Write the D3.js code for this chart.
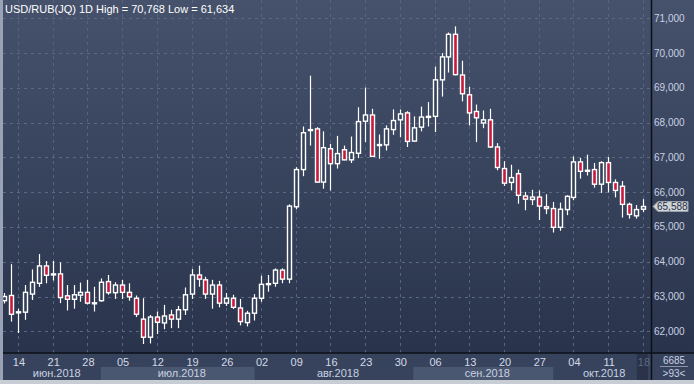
<!DOCTYPE html>
<html>
<head>
<meta charset="utf-8">
<script src="https://cdn.jsdelivr.net/npm/d3@7"></script>
<style>
  body { margin: 0; background: #c8ccd4; }
  svg { display: block; font-family: "Liberation Sans", Arial, sans-serif; }
</style>
</head>
<body>
<script>
// trading days shown (93 bars)
const days = [
  '2018-06-11','2018-06-13','2018-06-14','2018-06-15','2018-06-18','2018-06-19','2018-06-20','2018-06-21','2018-06-22',
  '2018-06-25','2018-06-26','2018-06-27','2018-06-28','2018-06-29',
  '2018-07-02','2018-07-03','2018-07-04','2018-07-05','2018-07-06','2018-07-09','2018-07-10','2018-07-11','2018-07-12',
  '2018-07-13','2018-07-16','2018-07-17','2018-07-18','2018-07-19','2018-07-20','2018-07-23','2018-07-24','2018-07-25',
  '2018-07-26','2018-07-27','2018-07-30','2018-07-31',
  '2018-08-01','2018-08-02','2018-08-03','2018-08-06','2018-08-07','2018-08-08','2018-08-09','2018-08-10','2018-08-13',
  '2018-08-14','2018-08-15','2018-08-16','2018-08-17','2018-08-20','2018-08-21','2018-08-22','2018-08-23','2018-08-24',
  '2018-08-27','2018-08-28','2018-08-29','2018-08-30','2018-08-31',
  '2018-09-03','2018-09-04','2018-09-05','2018-09-06','2018-09-07','2018-09-10','2018-09-11','2018-09-12','2018-09-13',
  '2018-09-14','2018-09-17','2018-09-18','2018-09-19','2018-09-20','2018-09-21','2018-09-24','2018-09-25','2018-09-26',
  '2018-09-27','2018-09-28',
  '2018-10-01','2018-10-02','2018-10-03','2018-10-04','2018-10-05','2018-10-08','2018-10-09','2018-10-10','2018-10-11',
  '2018-10-12','2018-10-15','2018-10-16','2018-10-17','2018-10-18'
];

const open = [
  62.88,63.03,62.54,62.55,63.07,63.38,63.88,63.63,63.65,63.02,62.92,63.04,63.12,62.80,
  62.88,63.43,63.11,63.33,63.12,62.95,62.35,61.83,62.41,62.24,62.47,62.35,62.62,63.07,63.62,63.48,63.07,63.33,62.81,62.95,62.67,62.25,
  62.52,62.95,63.35,63.38,63.76,63.50,65.58,66.65,67.78,67.82,66.29,67.25,66.82,67.22,66.93,67.12,68.04,68.22,67.37,67.36,67.80,68.08,68.28,
  67.47,67.87,68.16,68.18,69.23,69.89,70.54,69.37,68.80,68.32,67.99,68.08,67.30,66.68,66.28,66.53,65.89,65.79,65.86,65.58,
  65.53,64.99,65.50,65.85,66.87,66.62,66.65,66.23,66.85,66.28,66.17,65.65,65.32,65.51
];
const high = [
  63.10,63.93,62.65,63.33,63.78,64.22,64.02,64.02,63.98,63.33,63.33,63.40,63.48,63.28,
  63.52,63.62,63.41,63.48,63.38,63.03,62.95,62.47,62.57,62.76,62.62,62.73,63.26,63.79,63.89,63.57,63.48,63.45,63.10,63.05,62.93,62.59,
  63.07,63.60,63.62,63.81,63.81,65.65,66.72,67.89,69.35,67.87,67.75,67.39,67.62,67.34,67.60,68.44,69.01,68.40,67.66,67.92,68.38,68.38,68.33,
  68.18,68.46,68.59,69.61,70.00,70.59,70.768,69.78,69.03,68.52,68.35,68.40,67.41,66.89,66.79,66.65,66.01,66.07,66.05,65.94,
  65.72,65.70,65.91,67.03,66.99,67.08,66.84,66.89,67.01,66.37,66.32,65.70,65.63,65.80
];
const low = [
  62.80,62.28,61.95,62.33,62.90,63.28,63.38,63.46,62.81,62.60,62.65,62.85,62.77,62.57,
  62.85,63.05,62.93,62.93,62.88,62.41,61.634,61.65,61.92,62.06,62.09,62.09,62.47,62.93,63.28,62.93,62.65,62.69,62.73,62.64,62.17,62.14,
  62.31,62.85,63.14,63.28,63.38,63.38,65.51,66.46,67.34,66.27,66.10,66.05,66.68,66.92,66.84,66.98,67.44,67.02,66.96,67.20,67.65,67.58,67.30,
  67.45,67.75,67.89,67.73,68.75,69.44,69.36,68.61,67.92,67.44,67.84,67.27,66.63,66.18,66.05,65.67,65.48,65.63,65.20,65.37,
  64.84,64.89,65.34,65.77,66.39,66.48,66.13,65.98,65.99,65.85,65.27,65.24,65.24,65.43
];
const close = [
  63.00,62.49,62.56,63.12,63.41,63.88,63.61,63.65,62.97,62.92,63.05,63.12,62.81,62.82,
  63.41,63.11,63.33,63.12,62.99,62.49,61.83,62.41,62.26,62.44,62.35,62.62,63.05,63.62,63.50,63.07,63.33,62.81,62.95,62.69,62.28,62.52,
  62.95,63.35,63.37,63.76,63.50,65.60,66.65,67.71,67.80,66.29,67.28,66.82,67.11,66.93,67.14,68.03,68.22,67.03,67.36,67.82,68.06,68.25,67.46,
  67.85,68.16,68.18,69.23,69.89,70.54,69.38,68.83,68.28,68.14,68.08,67.30,66.71,66.26,66.42,65.91,65.80,65.86,65.60,65.53,
  64.99,65.51,65.88,66.87,66.60,66.63,66.23,66.85,66.28,66.05,65.65,65.36,65.50,65.588
];

const priceTicks = [62, 63, 64, 65, 66, 67, 68, 69, 70, 71];
const months = ['июн.2018', 'июл.2018', 'авг.2018', 'сен.2018', 'окт.2018'];
const title = 'USD/RUB(JQ) 1D High = 70,768 Low = 61,634';
const lastPrice = 65.588;

const W = 694, H = 384;
const plotL = 3, plotR = 651, plotB = 353, axisB = 380;

const bars = days.map((d, i) => ({
  date: d3.timeParse('%Y-%m-%d')(d),
  key: d, o: open[i], h: high[i], l: low[i], c: close[i]
}));

const x = d3.scaleBand()
  .domain(days)
  .range([0.6, 0.6 + 6.944 * days.length])
  .paddingInner(0.3)
  .paddingOuter(0.15);
const cx = d => x(d) + x.bandwidth() / 2;

const y = d3.scaleLinear()
  .domain([62, 71])
  .range([331.3, 18.3]);

const svg = d3.select('body').append('svg')
  .attr('width', W)
  .attr('height', H);

const defs = svg.append('defs');
const grad = defs.append('linearGradient')
  .attr('id', 'bg').attr('x1', 0).attr('y1', 0).attr('x2', 0).attr('y2', 1);
grad.append('stop').attr('offset', '0%').attr('stop-color', '#46526c');
grad.append('stop').attr('offset', '100%').attr('stop-color', '#29334c');
defs.append('clipPath').attr('id', 'plotclip')
  .append('rect').attr('x', plotL).attr('y', 0).attr('width', plotR - plotL).attr('height', plotB);

// frame and background
svg.append('rect').attr('width', W).attr('height', H).attr('fill', '#c8ccd4');
svg.append('rect').attr('x', plotL).attr('y', 0).attr('width', W - plotL).attr('height', plotB)
  .attr('fill', 'url(#bg)');
svg.append('rect').attr('x', 0).attr('y', 0).attr('width', plotL).attr('height', axisB)
  .attr('fill', '#9aa3b5');

// time axis strip
svg.append('rect').attr('x', plotL).attr('y', plotB).attr('width', W - plotL).attr('height', axisB - plotB)
  .attr('fill', '#37435d');

const plot = svg.append('g').attr('clip-path', 'url(#plotclip)');

// grid
plot.selectAll('.hgrid').data(priceTicks).enter().append('line')
  .attr('x1', plotL).attr('x2', plotR)
  .attr('y1', d => Math.round(y(d)) + 0.5).attr('y2', d => Math.round(y(d)) + 0.5)
  .attr('stroke', '#5b6985').attr('stroke-dasharray', '3,4');

const weekly = bars.filter(b => b.date.getDay() === 4);
plot.selectAll('.vgrid').data(weekly).enter().append('line')
  .attr('x1', d => Math.round(cx(d.key)) + 0.5).attr('x2', d => Math.round(cx(d.key)) + 0.5)
  .attr('y1', 0).attr('y2', plotB)
  .attr('stroke', '#56647f').attr('stroke-dasharray', '3,4');

// candles
const candle = plot.selectAll('.candle').data(bars).enter().append('g').attr('class', 'candle');
candle.append('line')
  .attr('x1', d => Math.round(cx(d.key)) + 0.5).attr('x2', d => Math.round(cx(d.key)) + 0.5)
  .attr('y1', d => y(d.h)).attr('y2', d => y(d.l))
  .attr('stroke', '#fff').attr('stroke-width', 1.2);
candle.append('rect')
  .attr('x', d => Math.round(cx(d.key)) - 1.5)
  .attr('width', 4)
  .attr('y', d => y(Math.max(d.o, d.c)))
  .attr('height', d => Math.max(1, Math.abs(y(d.o) - y(d.c))))
  .attr('fill', d => d.c < d.o ? '#c8193c' : '#34405a')
  .attr('stroke', '#fff').attr('stroke-width', 1.4);

// separators
svg.append('line').attr('x1', plotR + 0.5).attr('x2', plotR + 0.5).attr('y1', 0).attr('y2', axisB)
  .attr('stroke', '#0d1018').attr('stroke-width', 1.5);
svg.append('line').attr('x1', plotL).attr('x2', W).attr('y1', plotB).attr('y2', plotB)
  .attr('stroke', '#0d1018').attr('stroke-width', 1.5);

// right price axis
svg.selectAll('.ptick').data(priceTicks).enter().append('text')
  .attr('x', 654).attr('y', d => y(d)).attr('dy', '0.35em')
  .attr('fill', '#c9d1e2').style('font-size', '10px')
  .text(d => d3.format(',')(d) + ',000');

// last price tag
const ly = y(lastPrice);
svg.append('path')
  .attr('d', `M653,${ly} L658,${ly - 5} L688,${ly - 5} L688,${ly + 5} L658,${ly + 5} Z`)
  .attr('fill', '#cfd3da').attr('stroke', '#9aa1ad');
svg.append('text').attr('x', 657).attr('y', ly).attr('dy', '0.35em')
  .attr('fill', '#2a3040').style('font-size', '10px')
  .text(d3.format(',.3f')(lastPrice).replace('.', ','));

// month bands
const monthGroups = d3.groups(bars, d => d.date.getMonth());
monthGroups.forEach(([m, list], k) => {
  const x0 = Math.max(plotL, x(list[0].key) - 1 + 3);
  const x1 = Math.min(plotR - 3, x(list[list.length - 1].key) + x.step() + 3);
  if (k % 2 === 1) {
    svg.append('rect').attr('x', x0).attr('y', 367).attr('width', x1 - x0).attr('height', axisB - 367)
      .attr('fill', '#4a5771');
  }
  svg.append('text').attr('x', (x0 + x1) / 2 + 4).attr('y', 377)
    .attr('text-anchor', 'middle').attr('fill', '#c9d1e2').style('font-size', '11px')
    .text(months[k]);
});

// last partial week marker
const lastWeek = weekly[weekly.length - 1];
svg.append('rect').attr('x', cx(lastWeek.key) - 6).attr('y', plotB + 1).attr('width', 11).attr('height', axisB - plotB - 1)
  .attr('fill', '#2a3349');

// day ticks
svg.selectAll('.dtick').data(weekly).enter().append('text')
  .attr('x', d => cx(d.key) + 1).attr('y', 366)
  .attr('text-anchor', 'middle')
  .attr('fill', (d, i) => i === weekly.length - 1 ? '#5d6880' : '#d2d9e7')
  .style('font-size', '11px')
  .text(d => d3.timeFormat('%d')(d.date));

// bottom right info box
svg.append('text').attr('x', 674).attr('y', 364).attr('text-anchor', 'middle')
  .attr('fill', '#c9d1e2').style('font-size', '10px').text('6685');
svg.append('line').attr('x1', 660).attr('x2', 688).attr('y1', 366.5).attr('y2', 366.5)
  .attr('stroke', '#8a94a8');
svg.append('text').attr('x', 674).attr('y', 377).attr('text-anchor', 'middle')
  .attr('fill', '#c9d1e2').style('font-size', '10px').text('>' + days.length + '<');

// title
svg.append('text').attr('x', 5).attr('y', 13)
  .attr('fill', '#ffffff').style('font-size', '11px')
  .text(title);
</script>
</body>
</html>
